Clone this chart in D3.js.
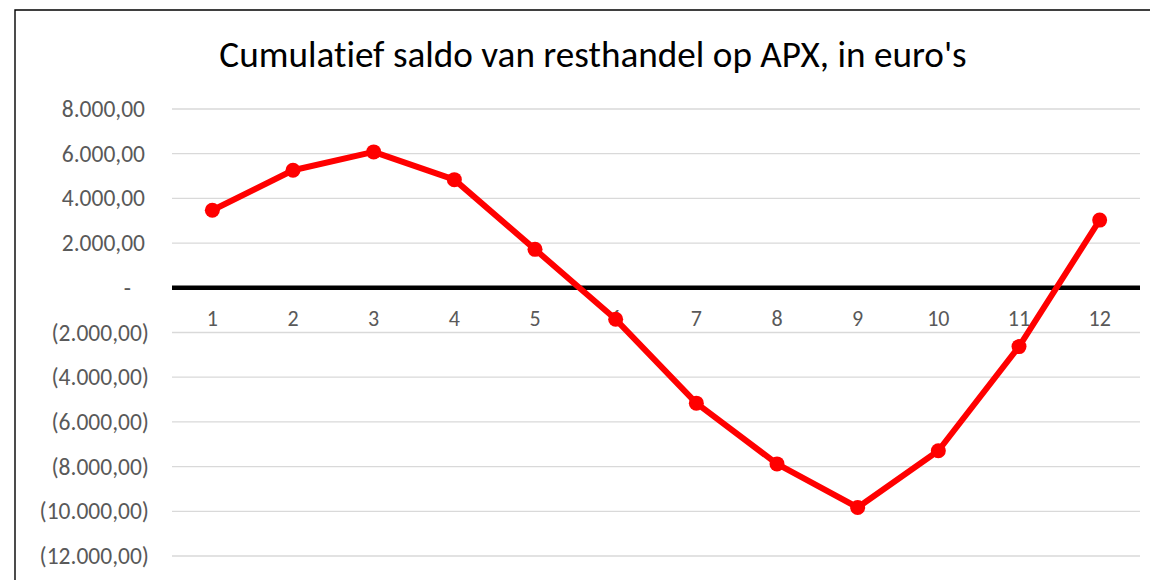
<!DOCTYPE html>
<html>
<head>
<meta charset="utf-8">
<script src="https://cdn.jsdelivr.net/npm/d3@7"></script>
<style>
  html, body { margin: 0; padding: 0; background: #fff; }
  svg { display: block; }
  text { font-variant-ligatures: none; }
</style>
</head>
<body>
<svg id="chart" width="1150" height="580"></svg>
<script>
const chartTitle = "Cumulatief saldo van resthandel op APX, in euro's";
const categories = ["1", "2", "3", "4", "5", "6", "7", "8", "9", "10", "11", "12"];
const saldo = [3470, 5260, 6080, 4840, 1720, -1410, -5160, -7880, -9830, -7290, -2630, 3030];
const yTicks = [8000, 6000, 4000, 2000, 0, -2000, -4000, -6000, -8000, -10000, -12000];

const FONT = "Carlito, Calibri, Lato, sans-serif";
const svg = d3.select("#chart");
const W = 1150, H = 580;
const plot = { left: 172, right: 1140, top: 109, bottom: 556 };

svg.append("rect").attr("width", W).attr("height", H).attr("fill", "#fff");

// chart border (extends beyond the visible area to the right and bottom)
svg.append("path")
  .attr("d", `M15,${H + 5} L15,10 L${W + 5},10`)
  .attr("fill", "none").attr("stroke", "#000").attr("stroke-width", 1.4);

const x = d3.scaleBand().domain(categories).range([plot.left, plot.right]);
const y = d3.scaleLinear().domain([-12000, 8000]).range([plot.bottom, plot.top]);

const nl = d3.formatLocale({ decimal: ",", thousands: ".", grouping: [3], currency: ["€", ""] });
const fmt = nl.format(",.2f");
const tickText = v => v === 0 ? "-" : (v < 0 ? "(" + fmt(-v) + ")" : fmt(v));

// gridlines
svg.append("g")
  .selectAll("line").data(yTicks.filter(v => v !== 0)).join("line")
  .attr("x1", plot.left).attr("x2", plot.right)
  .attr("y1", d => y(d)).attr("y2", d => y(d))
  .attr("stroke", "#d9d9d9").attr("stroke-width", 1.3);

// y axis labels
const yAxis = svg.append("g")
  .attr("transform", `translate(${plot.left},0)`)
  .call(d3.axisLeft(y).tickValues(yTicks).tickFormat(tickText).tickSize(0).tickPadding(23));
yAxis.select(".domain").remove();
yAxis.selectAll("text")
  .attr("font-family", FONT).attr("font-size", 23.5).attr("fill", "#595959")
  .attr("dx", d => d < 0 ? 0 : (d === 0 ? -18 : -4));

// zero axis line
svg.append("line")
  .attr("x1", plot.left).attr("x2", plot.right)
  .attr("y1", y(0)).attr("y2", y(0))
  .attr("stroke", "#000").attr("stroke-width", 4.5);

// category labels
const xAxis = svg.append("g")
  .attr("transform", `translate(0,${y(0)})`)
  .call(d3.axisBottom(x).tickSize(0).tickPadding(23));
xAxis.select(".domain").remove();
xAxis.selectAll("text")
  .attr("font-family", FONT).attr("font-size", 22).attr("fill", "#595959");

// line
const line = d3.line().x((d, i) => x(categories[i]) + x.bandwidth() / 2).y(d => y(d));
svg.append("path")
  .datum(saldo)
  .attr("d", line)
  .attr("fill", "none").attr("stroke", "#ff0000").attr("stroke-width", 6)
  .attr("stroke-linejoin", "round");

svg.append("g").selectAll("circle").data(saldo).join("circle")
  .attr("cx", (d, i) => x(categories[i]) + x.bandwidth() / 2)
  .attr("cy", d => y(d))
  .attr("r", 7.5)
  .attr("fill", "#ff0000");

// title
svg.append("text")
  .attr("x", 593).attr("y", 67)
  .attr("text-anchor", "middle")
  .attr("font-family", FONT).attr("font-size", 37.2).attr("fill", "#000")
  .text(chartTitle);
</script>
</body>
</html>
